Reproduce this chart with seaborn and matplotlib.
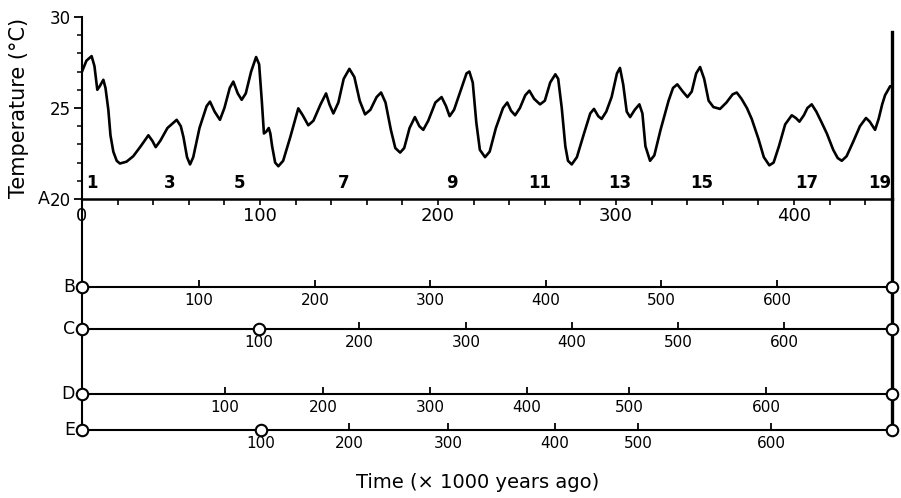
import numpy as np
import pandas as pd
import matplotlib
matplotlib.use('Agg')
import matplotlib.pyplot as plt
from matplotlib.ticker import MultipleLocator
import seaborn as sns

# record A: time (x 1000 years ago) and temperature (deg C)
age_A = [0, 2.5, 5.4, 7, 8.6, 10, 12, 13.2, 14.8, 16, 17.6, 19.5, 21.3, 25, 28.8, 33,
         37.3, 39.5, 41.4, 44, 48, 53.2, 55.5, 57, 59, 60.7, 62.5, 66, 70, 71.9, 74.5,
         77.5, 80, 83, 85, 87.5, 89.7, 92, 95, 97.8, 99.5, 101, 102.2, 103.5, 104.9,
         105.8, 106.8, 108.5, 110.3, 113, 117, 121.5, 124, 127.1, 130, 134, 137.1, 139,
         141.2, 144, 147, 150.2, 153, 156, 159, 162, 165.5, 168, 170.5, 173.5, 176,
         178.7, 181, 184, 187, 189.5, 191.7, 194.5, 198.5, 202, 204.5, 206.5, 209,
         212.5, 216, 217.6, 219.5, 221.5, 223.5, 226.4, 229, 232.5, 236.5, 238.9, 241,
         243.3, 246, 249, 251.3, 254, 257.3, 260, 263, 265.9, 267.5, 269.5, 271.5, 273,
         275.1, 278, 282, 285.5, 287.6, 290, 291.9, 294.5, 297.5, 300.5, 302.2, 304,
         306, 307.9, 310.5, 313.1, 314.8, 316.5, 319.1, 321.5, 325, 329.5, 332, 334.4,
         337.5, 340.1, 342.5, 345, 347.2, 349.5, 352, 354.7, 358.4, 362, 365.5, 367.8,
         370.5, 373.5, 376.2, 380, 383, 386.1, 388.5, 391.5, 395, 398.7, 401, 403,
         405.5, 407.5, 409.9, 412.5, 415.5, 418.4, 422, 424.5, 426.8, 429.5, 433, 437,
         440.4, 442.5, 445.5, 447.5, 449.5, 451.1, 454]
temp_A = [27.0, 27.6, 27.85, 27.3, 26.0, 26.2, 26.55, 26.1, 24.9, 23.5, 22.6, 22.1, 21.95,
          22.05, 22.35, 22.9, 23.5, 23.2, 22.85, 23.2, 23.9, 24.35, 24.0, 23.4, 22.3,
          21.9, 22.3, 23.9, 25.1, 25.35, 24.8, 24.35, 25.0, 26.1, 26.45, 25.8, 25.45,
          25.8, 27.0, 27.8, 27.4, 25.4, 23.6, 23.7, 23.9, 23.6, 22.9, 22.0, 21.8, 22.1,
          23.4, 24.98, 24.6, 24.05, 24.3, 25.2, 25.8, 25.2, 24.7, 25.3, 26.6, 27.15,
          26.7, 25.4, 24.65, 24.9, 25.6, 25.85, 25.3, 23.8, 22.8, 22.55, 22.8, 23.9,
          24.5, 24.0, 23.8, 24.3, 25.3, 25.6, 25.1, 24.55, 24.9, 25.9, 26.9, 27.0, 26.4,
          24.2, 22.7, 22.3, 22.6, 23.9, 25.0, 25.3, 24.85, 24.6, 25.0, 25.7, 25.95, 25.5,
          25.2, 25.4, 26.4, 26.85, 26.6, 25.0, 22.9, 22.1, 21.9, 22.3, 23.6, 24.7, 24.95,
          24.55, 24.4, 24.8, 25.6, 26.9, 27.2, 26.3, 24.8, 24.5, 24.9, 25.2, 24.7, 22.9,
          22.1, 22.4, 23.8, 25.4, 26.1, 26.3, 25.9, 25.6, 25.9, 26.9, 27.25, 26.6, 25.4,
          25.05, 24.95, 25.3, 25.75, 25.85, 25.5, 25.0, 24.4, 23.3, 22.3, 21.85, 22.0,
          22.9, 24.1, 24.6, 24.45, 24.25, 24.6, 25.0, 25.2, 24.8, 24.2, 23.6, 22.7,
          22.25, 22.1, 22.35, 23.1, 24.0, 24.45, 24.25, 23.8, 24.4, 25.2, 25.7, 26.2]
record_end = 455

# isotope stage numbers and where they sit on the A time axis
stage_labels = ['1', '3', '5', '7', '9', '11', '13', '15', '17', '19']
stage_age = [5.6, 49.4, 88.4, 146.8, 208, 257.3, 302.2, 348, 407, 448]

# other time scales B-E: labelled ages and their equivalent position on scale A
scale_ages = [100, 200, 300, 400, 500, 600]
B_pos = [65.7, 130.9, 195.5, 260.7, 325.3, 390.4]
C_pos = [99.4, 155.6, 215.7, 275.3, 334.8, 394.4]
D_pos = [80.3, 135.4, 195.5, 250.0, 307.3, 384.3]
E_pos = [100.6, 150.0, 205.6, 265.7, 312.4, 387.1]
node_ages = {'B': [], 'C': [100], 'D': [], 'E': [100]}

sns.set_style('ticks')
plt.rcParams['font.family'] = ['DejaVu Sans']
plt.rcParams.update({'text.color': 'black', 'axes.labelcolor': 'black',
                     'xtick.color': 'black', 'ytick.color': 'black',
                     'axes.edgecolor': 'black'})

fig = plt.figure(figsize=(9.01, 4.98), dpi=100)
axb = fig.add_axes([0.091, 0.1064, 0.899, 0.494])
ax = fig.add_axes([0.091, 0.6004, 0.899, 0.3655])
axb.patch.set_visible(False)

# --- top panel: temperature record ---
dfA = pd.DataFrame({'age': age_A, 'temp': temp_A})
sns.lineplot(data=dfA, x='age', y='temp', ax=ax, color='black', lw=1.9, sort=False,
             estimator=None)
ax.lines[0].set_solid_joinstyle('round')
ax.set_xlim(0, record_end)
ax.set_ylim(20, 30)
ax.set_xlabel('')
ax.set_ylabel('Temperature (°C)', fontsize=15)
ax.yaxis.set_label_coords(-0.066, 0.5)
ax.spines['top'].set_visible(False)
ax.spines['left'].set_linewidth(1.5)
ax.spines['bottom'].set_linewidth(1.8)
ax.spines['right'].set_linewidth(2.4)
ax.spines['right'].set_bounds(20, 29.2)
ax.xaxis.set_major_locator(MultipleLocator(100))
ax.xaxis.set_minor_locator(MultipleLocator(20))
ax.yaxis.set_major_locator(MultipleLocator(5))
ax.yaxis.set_minor_locator(MultipleLocator(1))
ax.tick_params(axis='x', which='both', direction='out', length=4.5, width=1.2,
               labelsize=13, pad=1)
ax.tick_params(axis='y', which='major', direction='out', length=6, width=1.3,
               labelsize=12, pad=2)
ax.tick_params(axis='y', which='minor', direction='out', length=3.5, width=1.1)
ax.tick_params(right=False, which='both')
ax.annotate('A', xy=(0, 20), xytext=(-23, 0), textcoords='offset points',
            ha='right', va='center', fontsize=12.5)
for lab, a in zip(stage_labels, stage_age):
    ax.text(a, 20.9, lab, ha='center', va='center', fontsize=12, fontweight='bold')

# --- lower panel: alternative time scales ---
row_y = {'B': 287, 'C': 329, 'D': 394, 'E': 430}
row_pos = {'B': B_pos, 'C': C_pos, 'D': D_pos, 'E': E_pos}
axb.set_xlim(0, record_end)
axb.set_ylim(445, 199)
axb.set_xticks([])
axb.set_yticks([])
for s in ['top', 'bottom']:
    axb.spines[s].set_visible(False)
axb.spines['left'].set_linewidth(1.5)
axb.spines['left'].set_bounds(199, row_y['E'])
axb.spines['right'].set_linewidth(2.4)
axb.spines['right'].set_bounds(199, row_y['E'])

for name, y in row_y.items():
    pos = row_pos[name]
    axb.hlines(y, 0, record_end, color='black', lw=1.5)
    tick_x = [p for a, p in zip(scale_ages, pos) if a not in node_ages[name]]
    axb.plot(tick_x, [y] * len(tick_x), ls='none', marker=2, ms=5, mew=1.3,
             color='black')
    circ_x = [0] + [p for a, p in zip(scale_ages, pos) if a in node_ages[name]] + [record_end]
    sns.scatterplot(x=circ_x, y=[y] * len(circ_x), ax=axb, s=68, color='white',
                    edgecolor='black', linewidth=1.5, zorder=5, clip_on=False)
    for a, p in zip(scale_ages, pos):
        axb.annotate(str(a), xy=(p, y), xytext=(0, -4), textcoords='offset points',
                     ha='center', va='top', fontsize=11)
    axb.annotate(name, xy=(0, y), xytext=(-5, 0), textcoords='offset points',
                 ha='right', va='center', fontsize=12.5)

axb.text(0.489, -0.154, 'Time (× 1000 years ago)', transform=axb.transAxes,
         ha='center', va='center', fontsize=14)

fig.savefig('out.png', dpi=100)
